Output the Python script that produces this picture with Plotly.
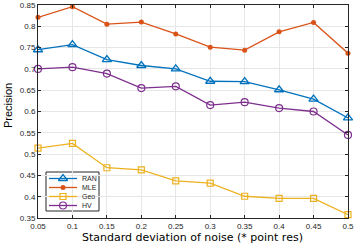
import plotly.graph_objects as go

noise = [0.05, 0.1, 0.15, 0.2, 0.25, 0.3, 0.35, 0.4, 0.45, 0.5]
ran = [0.745, 0.757, 0.722, 0.708, 0.700, 0.671, 0.670, 0.651, 0.629, 0.585]
mle = [0.821, 0.846, 0.805, 0.810, 0.782, 0.751, 0.744, 0.787, 0.809, 0.737]
geo = [0.514, 0.525, 0.468, 0.463, 0.437, 0.432, 0.401, 0.396, 0.396, 0.358]
hv = [0.700, 0.704, 0.689, 0.655, 0.659, 0.615, 0.622, 0.608, 0.600, 0.545]
x_ticks = [0.05, 0.1, 0.15, 0.2, 0.25, 0.3, 0.35, 0.4, 0.45, 0.5]
x_ticklabels = ["0.05", "0.1", "0.15", "0.2", "0.25", "0.3", "0.35", "0.4", "0.45", "0.5"]
y_ticks = [0.35, 0.4, 0.45, 0.5, 0.55, 0.6, 0.65, 0.7, 0.75, 0.8, 0.85]
y_ticklabels = ["0.35", "0.4", "0.45", "0.5", "0.55", "0.6", "0.65", "0.7", "0.75", "0.8", "0.85"]

names = ["RAN", "MLE", "Geo", "HV"]
values = [ran, mle, geo, hv]
colors = ["#0072BD", "#D95319", "#EDB120", "#7E2F8E"]
markers = [
    dict(symbol="triangle-up-open", size=8, line=dict(width=1.3)),
    dict(symbol="circle", size=5),
    dict(symbol="square-open", size=6, line=dict(width=1.2)),
    dict(symbol="circle-open", size=7, line=dict(width=1.2)),
]

W, H = 354, 245
L, R, T, B = 38, 6, 5, 27
PX0, PX1 = L, W - R          # plot area in pixels
PY0, PY1 = T, H - B

def px_to_paper_x(px):
    return (px - PX0) / (PX1 - PX0)

def px_to_paper_y(py):
    return (PY1 - py) / (PY1 - PY0)

fig = go.Figure()
for name, vals, color, marker in zip(names, values, colors, markers):
    m = dict(marker)
    m["color"] = color
    fig.add_trace(go.Scatter(x=noise, y=vals, name=name, mode="lines+markers",
                             line=dict(color=color, width=1.3), marker=m,
                             showlegend=False, cliponaxis=False))

# custom compact legend drawn in a pixel-space overlay axis
leg_x0, leg_x1, leg_y0, leg_y1 = 46, 99, 172, 211
row_y = [178.5, 187.5, 196.5, 205.5]
for name, color, marker, ry in zip(names, colors, markers, row_y):
    fig.add_trace(go.Scatter(x=[49, 77], y=[ry, ry], mode="lines",
                             line=dict(color=color, width=1.3),
                             xaxis="x2", yaxis="y2", showlegend=False, hoverinfo="skip"))
    m = dict(marker)
    m["color"] = color
    fig.add_trace(go.Scatter(x=[63], y=[ry], mode="markers", marker=m,
                             xaxis="x2", yaxis="y2", showlegend=False, hoverinfo="skip"))
    fig.add_annotation(x=80, y=ry, xref="x2", yref="y2", text=name, showarrow=False,
                       xanchor="left", yanchor="middle",
                       font=dict(size=7, color="#262626"))
fig.add_shape(type="rect", xref="x2", yref="y2", x0=leg_x0, x1=leg_x1, y0=leg_y0, y1=leg_y1,
              line=dict(color="#262626", width=1), fillcolor="white", layer="below")

axis_common = dict(
    showline=True, linecolor="#262626", linewidth=1, mirror="ticks",
    ticks="inside", ticklen=3, tickcolor="#262626",
    showgrid=True, gridcolor="#e6e6e6", gridwidth=1, zeroline=False,
    tickfont=dict(family="Liberation Sans, Arial", size=8, color="#262626"),
    automargin=False, ticklabeloverflow="allow",
)

fig.add_annotation(x=px_to_paper_x(192), y=px_to_paper_y(237), xref="paper", yref="paper",
                   text="Standard deviation of noise (* point res)", showarrow=False,
                   xanchor="center", yanchor="middle",
                   font=dict(family="DejaVu Sans", size=11, color="#000000"))
fig.add_annotation(x=px_to_paper_x(8), y=px_to_paper_y(106), xref="paper", yref="paper",
                   text="Precision", showarrow=False, textangle=-90,
                   xanchor="center", yanchor="middle",
                   font=dict(family="Liberation Sans, Arial", size=11, color="#000000"))

fig.update_layout(
    width=W, height=H,
    margin=dict(l=L, r=R, t=T, b=B),
    paper_bgcolor="white", plot_bgcolor="white",
    font=dict(family="Liberation Sans, Arial", color="#262626"),
    showlegend=False,
    xaxis=dict(range=[0.05, 0.50001], tickvals=x_ticks, ticktext=x_ticklabels, **axis_common),
    yaxis=dict(range=[0.35, 0.85], tickvals=y_ticks, ticktext=y_ticklabels, **axis_common),
    xaxis2=dict(range=[PX0, PX1], overlaying="x", visible=False, fixedrange=True),
    yaxis2=dict(range=[PY1, PY0], overlaying="y", visible=False, fixedrange=True),
)

fig.write_html("out.html", config={"staticPlot": True},
               post_script="document.body.style.margin='0';document.body.style.overflow='hidden';")
